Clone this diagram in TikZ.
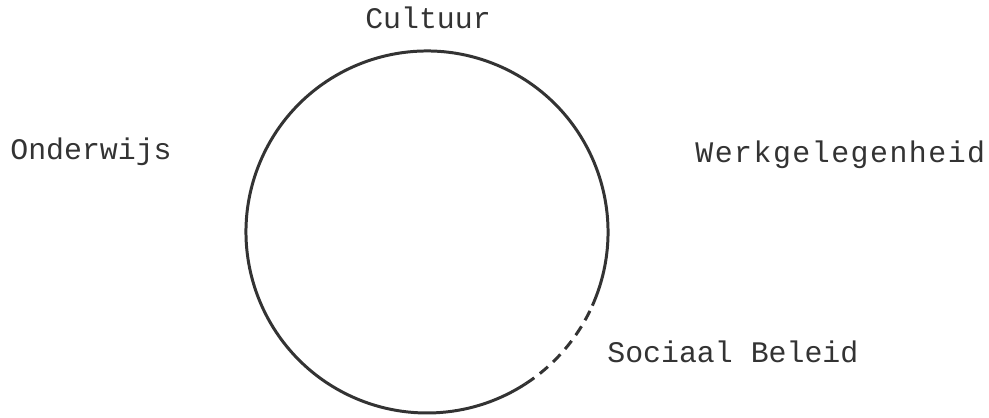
\documentclass[tikz,border=0pt]{standalone}
\usepackage{fontspec}
\setmonofont{Liberation Mono}
\usetikzlibrary{calc}
\begin{document}
\begin{tikzpicture}[
    label/.style={font=\ttfamily\fontsize{17}{20}\selectfont, text=black!80, inner sep=0pt},
    ring/.style={line width=1.7pt, draw=black!80},
    ringdash/.style={ring, dash pattern=on 6pt off 4pt}
]
\useasboundingbox (0,0) rectangle (19.78,8.34);
% Circle, solid with a dashed piece at the lower right
\coordinate (centre) at (8.54,3.70);
\draw[ring] ($(centre)+(-24:3.62)$) arc[start angle=-24, end angle=303, radius=3.62];
\draw[ringdash] ($(centre)+(-57:3.62)$) arc[start angle=-57, end angle=-24, radius=3.62];
% Labels around the circle
\node[label] (cultuur) at (8.56,7.98) {Cultuur};
\node[label, anchor=west] (onderwijs) at (0.20,5.30) {Onderwijs};
\node[label, anchor=west] (werk) at (13.90,5.24) {\addfontfeatures{LetterSpace=5}Werkgelegenheid};
\node[label, anchor=west] (sociaal) at (12.14,1.30) {Sociaal Beleid};
\end{tikzpicture}
\end{document}
